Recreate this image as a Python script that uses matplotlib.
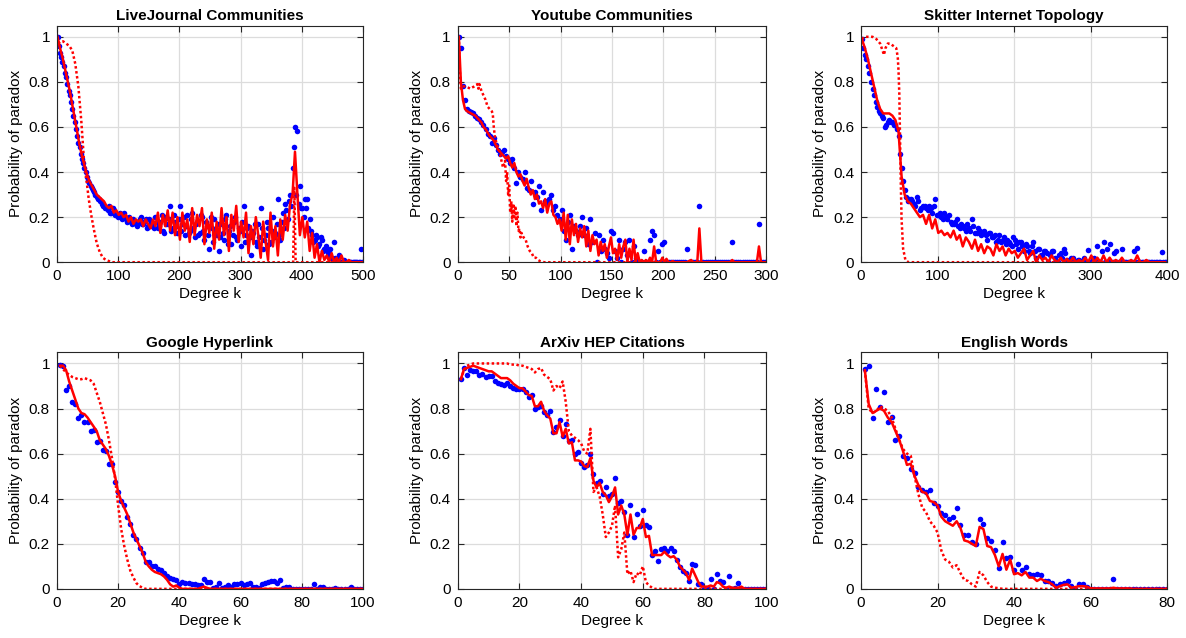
import numpy as np
import matplotlib.pyplot as plt

plt.rcParams['font.family'] = ['Liberation Sans', 'DejaVu Sans']

# ---------------- LiveJournal Communities ----------------
# measured points at k = 1, 5, 9, ..., 497
lj_emp = [1.0, 0.93, 0.89, 0.84, 0.79, 0.74, 0.68, 0.62, 0.56, 0.51,
          0.46, 0.42, 0.38, 0.35, 0.33, 0.31, 0.29, 0.28, 0.26, 0.25,
          0.24, 0.25, 0.22, 0.23, 0.21, 0.21, 0.20, 0.22, 0.19, 0.20,
          0.18, 0.19, 0.17, 0.18, 0.20, 0.17, 0.19, 0.16, 0.18, 0.17,
          0.20, 0.15, 0.18, 0.14, 0.20, 0.17, 0.25, 0.15, 0.18, 0.13,
          0.25, 0.17, 0.12, 0.21, 0.14, 0.22, 0.11, 0.18, 0.13, 0.20,
          0.10, 0.16, 0.06, 0.15, 0.19, 0.12, 0.05, 0.17, 0.10, 0.21,
          0.14, 0.08, 0.18, 0.11, 0.15, 0.07, 0.25, 0.12, 0.16, 0.03,
          0.13, 0.09, 0.17, 0.24, 0.06, 0.12, 0.15, 0.09, 0.20, 0.13,
          0.28, 0.10, 0.22, 0.26, 0.19, 0.30, 0.42, 0.60, 0.58, 0.34,
          0.24, 0.28, 0.28, 0.19, 0.12, 0.10, 0.11, 0.08, 0.10, 0.06,
          0.05, 0.04, 0.02, 0.09, 0.01, 0.03, 0.0, 0.01, 0.0, 0.0,
          0.0, 0.0, 0.0, 0.0, 0.06]
# measured points at k = 3, 7, 11, ..., 499
lj_emp2 = [0.96, 0.91, 0.87, 0.82, 0.76, 0.71, 0.65, 0.59, 0.53, 0.48,
           0.44, 0.40, 0.36, 0.34, 0.32, 0.30, 0.28, 0.27, 0.25, 0.24,
           0.23, 0.22, 0.24, 0.21, 0.20, 0.22, 0.19, 0.20, 0.18, 0.19,
           0.17, 0.18, 0.16, 0.19, 0.17, 0.18, 0.15, 0.19, 0.16, 0.15,
           0.18, 0.16, 0.21, 0.13, 0.17, 0.19, 0.14, 0.21, 0.16, 0.19,
           0.14, 0.20, 0.16, 0.13, 0.19, 0.15, 0.17, 0.12, 0.21, 0.14,
           0.18, 0.12, 0.20, 0.09, 0.14, 0.17, 0.11, 0.13, 0.19, 0.08,
           0.16, 0.12, 0.20, 0.10, 0.14, 0.18, 0.09, 0.15, 0.11, 0.14,
           0.17, 0.07, 0.11, 0.15, 0.10, 0.18, 0.08, 0.14, 0.11, 0.17,
           0.12, 0.18, 0.15, 0.23, 0.27, 0.25, 0.51, 0.30, 0.26, 0.24,
           0.20, 0.24, 0.15, 0.14, 0.09, 0.12, 0.07, 0.11, 0.05, 0.07,
           0.03, 0.06, 0.01, 0.02, 0.0, 0.0, 0.0, 0.0, 0.0, 0.0,
           0.0, 0.0, 0.0, 0.0, 0.0]
# model at k = 1, 5, 9, ..., 497
lj_model = [1.0, 0.95, 0.91, 0.86, 0.81, 0.76, 0.70, 0.64, 0.58, 0.52,
            0.47, 0.43, 0.39, 0.36, 0.34, 0.32, 0.30, 0.29, 0.28, 0.27,
            0.25, 0.24, 0.25, 0.22, 0.23, 0.21, 0.22, 0.20, 0.21, 0.18,
            0.20, 0.17, 0.19, 0.18, 0.19, 0.16, 0.19, 0.17, 0.15, 0.19,
            0.16, 0.22, 0.13, 0.21, 0.16, 0.23, 0.14, 0.22, 0.12, 0.20,
            0.10, 0.22, 0.14, 0.19, 0.09, 0.24, 0.12, 0.21, 0.16, 0.24,
            0.08, 0.19, 0.13, 0.22, 0.06, 0.18, 0.10, 0.24, 0.12, 0.20,
            0.05, 0.21, 0.14, 0.25, 0.09, 0.18, 0.11, 0.22, 0.04, 0.16,
            0.08, 0.20, 0.12, 0.02, 0.18, 0.09, 0.01, 0.22, 0.07, 0.16,
            0.03, 0.19, 0.10, 0.21, 0.14, 0.26, 0.30, 0.49, 0.30, 0.12,
            0.20, 0.11, 0.18, 0.05, 0.13, 0.02, 0.08, 0.0, 0.05, 0.01,
            0.03, 0.0, 0.04, 0.0, 0.02, 0.0, 0.03, 0.0, 0.0, 0.01,
            0.0, 0.0, 0.0, 0.0, 0.0]
lj_alt_k = [2, 6, 10, 15, 20, 25, 30, 35, 40, 44, 48, 52, 56, 60, 65, 70, 75, 80, 85, 90,
            386, 388, 390, 500]
lj_alt = [0.97, 0.98, 0.98, 0.97, 0.96, 0.94, 0.88, 0.78, 0.62, 0.46, 0.37, 0.28, 0.21,
          0.15, 0.085, 0.045, 0.02, 0.01, 0.005, 0.0, 0.0, 0.33, 0.0, 0.0]

# ---------------- Youtube Communities, k = 1, 3, 5, ..., 299 ----------------
yt_emp = [1.0, 0.95, 0.78, 0.72, 0.68, 0.67, 0.665, 0.66, 0.65, 0.64,
          0.635, 0.62, 0.61, 0.59, 0.57, 0.56, 0.53, 0.55, 0.52, 0.50,
          0.48, 0.49, 0.50, 0.47, 0.46, 0.44, 0.46, 0.42, 0.35, 0.40,
          0.38, 0.37, 0.40, 0.33, 0.32, 0.36, 0.26, 0.31, 0.29, 0.34,
          0.23, 0.31, 0.27, 0.26, 0.28, 0.30, 0.23, 0.25, 0.21, 0.19,
          0.23, 0.14, 0.10, 0.18, 0.21, 0.06, 0.16, 0.14, 0.12, 0.16,
          0.20, 0.12, 0.15, 0.08, 0.19, 0.09, 0.13, 0.0, 0.12, 0.05,
          0.10, 0.06, 0.04, 0.02, 0.14, 0.13, 0.05, 0.02, 0.10, 0.0,
          0.06, 0.09, 0.03, 0.10, 0.0, 0.07, 0.02, 0.0, 0.0, 0.0,
          0.05, 0.0, 0.0, 0.10, 0.14, 0.12, 0.0, 0.05, 0.0, 0.08,
          0.09, 0.0, 0.0, 0.0, 0.0, 0.0, 0.0, 0.0, 0.0, 0.0,
          0.0, 0.06, 0.0, 0.0, 0.0, 0.0, 0.0, 0.25, 0.0, 0.0,
          0.0, 0.0, 0.0, 0.0, 0.0, 0.0, 0.0, 0.0, 0.0, 0.0,
          0.0, 0.0, 0.0, 0.09, 0.0, 0.0, 0.0, 0.0, 0.0, 0.0,
          0.0, 0.0, 0.0, 0.0, 0.0, 0.0, 0.17, 0.0, 0.0, 0.0]
yt_model = [1.0, 0.80, 0.72, 0.68, 0.67, 0.665, 0.66, 0.655, 0.65, 0.64,
            0.63, 0.62, 0.60, 0.59, 0.575, 0.56, 0.55, 0.54, 0.52, 0.50,
            0.49, 0.48, 0.47, 0.46, 0.47, 0.44, 0.42, 0.44, 0.40, 0.38,
            0.39, 0.36, 0.34, 0.37, 0.33, 0.30, 0.32, 0.28, 0.30, 0.26,
            0.27, 0.24, 0.28, 0.22, 0.26, 0.27, 0.21, 0.20, 0.17, 0.19,
            0.14, 0.22, 0.10, 0.21, 0.08, 0.19, 0.12, 0.17, 0.09, 0.15,
            0.11, 0.16, 0.07, 0.14, 0.05, 0.12, 0.08, 0.10, 0.03, 0.09,
            0.05, 0.08, 0.02, 0.07, 0.11, 0.04, 0.06, 0.01, 0.08, 0.02,
            0.07, 0.10, 0.0, 0.06, 0.01, 0.10, 0.0, 0.04, 0.0, 0.01,
            0.0, 0.01, 0.0, 0.02, 0.0, 0.07, 0.0, 0.0, 0.0, 0.02,
            0.0, 0.015, 0.0, 0.0, 0.005, 0.0, 0.0, 0.0, 0.0, 0.0,
            0.0, 0.0, 0.005, 0.01, 0.0, 0.0, 0.0, 0.15, 0.0, 0.0,
            0.0, 0.0, 0.0, 0.0, 0.0, 0.0, 0.0, 0.0, 0.0, 0.0,
            0.0, 0.0, 0.0, 0.01, 0.0, 0.0, 0.0, 0.0, 0.0, 0.0,
            0.0, 0.0, 0.0, 0.0, 0.0, 0.0, 0.07, 0.0, 0.0, 0.0]
yt_alt_k = [1, 2, 3, 5, 8, 12, 16, 19, 20, 21, 23, 25, 27, 29, 31, 33, 34, 35, 36, 38,
            40, 42, 44, 46, 47, 48, 49, 50, 51, 52, 53, 54, 55, 56, 57, 58, 59, 60, 61, 62,
            64, 66, 68, 70, 72, 74, 76, 78, 80, 84, 90, 300]
yt_alt = [1.0, 0.85, 0.77, 0.78, 0.78, 0.77, 0.78, 0.79, 0.77, 0.79,
          0.76, 0.74, 0.72, 0.69, 0.68, 0.67, 0.66, 0.60, 0.56, 0.52,
          0.50, 0.46, 0.42, 0.45, 0.36, 0.40, 0.30, 0.34, 0.22, 0.27,
          0.18, 0.26, 0.20, 0.25, 0.16, 0.22, 0.14, 0.15, 0.11, 0.13,
          0.11, 0.10, 0.07, 0.05, 0.04, 0.02, 0.02, 0.01, 0.005, 0.0,
          0.0, 0.0]

# ---------------- Skitter Internet Topology ----------------
# measured points at k = 1, 5, 9, ..., 397
sk_emp = [0.99, 0.92, 0.87, 0.80, 0.74, 0.69, 0.66, 0.64, 0.61, 0.63,
          0.62, 0.61, 0.56, 0.42, 0.32, 0.27, 0.28, 0.26, 0.29, 0.23,
          0.25, 0.24, 0.25, 0.22, 0.28, 0.21, 0.20, 0.22, 0.19, 0.18,
          0.17, 0.19, 0.15, 0.16, 0.14, 0.15, 0.19, 0.13, 0.15, 0.12,
          0.14, 0.10, 0.13, 0.11, 0.09, 0.12, 0.10, 0.08, 0.09, 0.07,
          0.10, 0.06, 0.09, 0.05, 0.07, 0.04, 0.09, 0.02, 0.06, 0.03,
          0.05, 0.0, 0.05, 0.02, 0.0, 0.04, 0.06, 0.01, 0.0, 0.02,
          0.0, 0.01, 0.0, 0.0, 0.055, 0.0, 0.02, 0.07, 0.0, 0.09,
          0.06, 0.08, 0.0, 0.05, 0.0, 0.06, 0.0, 0.0, 0.0, 0.05,
          0.065, 0.0, 0.0, 0.0, 0.0, 0.0, 0.0, 0.0, 0.045, 0.0]
# measured points at k = 3, 7, 11, ..., 399
sk_emp2 = [0.95, 0.90, 0.84, 0.77, 0.71, 0.67, 0.65, 0.60, 0.62, 0.62,
           0.61, 0.59, 0.48, 0.36, 0.29, 0.28, 0.27, 0.25, 0.27, 0.24,
           0.25, 0.23, 0.24, 0.25, 0.21, 0.22, 0.19, 0.20, 0.21, 0.17,
           0.18, 0.16, 0.17, 0.15, 0.17, 0.14, 0.16, 0.13, 0.14, 0.13,
           0.12, 0.13, 0.11, 0.12, 0.10, 0.09, 0.11, 0.10, 0.08, 0.11,
           0.08, 0.09, 0.07, 0.08, 0.05, 0.07, 0.05, 0.06, 0.03, 0.05,
           0.04, 0.03, 0.05, 0.0, 0.03, 0.02, 0.04, 0.0, 0.02, 0.0,
           0.01, 0.0, 0.02, 0.0, 0.0, 0.01, 0.0, 0.0, 0.05, 0.0,
           0.0, 0.0, 0.04, 0.0, 0.0, 0.0, 0.0, 0.0, 0.0, 0.0,
           0.0, 0.0, 0.0, 0.0, 0.0, 0.0, 0.0, 0.0, 0.0, 0.0]
sk_model = [0.99, 0.95, 0.90, 0.84, 0.78, 0.72, 0.68, 0.66, 0.66, 0.66,
            0.65, 0.63, 0.58, 0.38, 0.30, 0.27, 0.26, 0.24, 0.22, 0.20,
            0.21, 0.17, 0.21, 0.15, 0.19, 0.13, 0.14, 0.12, 0.13, 0.11,
            0.14, 0.10, 0.12, 0.07, 0.11, 0.09, 0.06, 0.10, 0.05, 0.08,
            0.04, 0.07, 0.06, 0.03, 0.08, 0.05, 0.07, 0.03, 0.06, 0.04,
            0.05, 0.02, 0.04, 0.06, 0.01, 0.03, 0.05, 0.0, 0.03, 0.01,
            0.02, 0.0, 0.03, 0.01, 0.0, 0.02, 0.0, 0.015, 0.0, 0.02,
            0.0, 0.01, 0.0, 0.02, 0.0, 0.03, 0.0, 0.02, 0.0, 0.03,
            0.0, 0.02, 0.0, 0.01, 0.0, 0.02, 0.0, 0.0, 0.01, 0.0,
            0.03, 0.0, 0.0, 0.01, 0.0, 0.0, 0.0, 0.0, 0.0, 0.0]
sk_alt_k = [1, 5, 10, 15, 20, 25, 28, 30, 32, 35, 38, 42, 46, 48, 49, 50, 51, 52, 53, 55,
            58, 62, 70, 400]
sk_alt = [0.99, 1.0, 1.0, 1.0, 0.99, 0.97, 0.94, 0.92, 0.95, 0.97,
          0.97, 0.96, 0.95, 0.91, 0.85, 0.75, 0.55, 0.35, 0.19, 0.06,
          0.01, 0.0, 0.0, 0.0]

# ---------------- Google Hyperlink, k = 1 ... 100 ----------------
gg_emp = [0.995, 0.99, 0.88, 0.90, 0.83, 0.82, 0.76, 0.77, 0.74, 0.74,
          0.70, 0.705, 0.65, 0.655, 0.615, 0.61, 0.553, 0.553, 0.474, 0.43,
          0.39, 0.374, 0.32, 0.29, 0.24, 0.22, 0.18, 0.16, 0.12, 0.12,
          0.10, 0.10, 0.09, 0.085, 0.07, 0.055, 0.05, 0.045, 0.04, 0.02,
          0.03, 0.025, 0.025, 0.02, 0.02, 0.015, 0.015, 0.045, 0.03, 0.03,
          0.005, 0.01, 0.025, 0.005, 0.01, 0.015, 0.01, 0.02, 0.02, 0.025,
          0.015, 0.02, 0.025, 0.01, 0.01, 0.005, 0.02, 0.025, 0.03, 0.035,
          0.035, 0.025, 0.04, 0.005, 0.01, 0.01, 0.0, 0.0, 0.0, 0.0,
          0.0, 0.0, 0.0, 0.02, 0.0, 0.01, 0.01, 0.0, 0.0, 0.0,
          0.005, 0.0, 0.0, 0.0, 0.0, 0.01, 0.0, 0.0, 0.0, 0.0]
gg_model = [0.99, 0.99, 0.97, 0.92, 0.88, 0.84, 0.80, 0.78, 0.775, 0.76,
            0.74, 0.72, 0.70, 0.66, 0.64, 0.62, 0.59, 0.55, 0.50, 0.43,
            0.39, 0.36, 0.33, 0.29, 0.25, 0.22, 0.19, 0.16, 0.12, 0.10,
            0.085, 0.075, 0.07, 0.065, 0.055, 0.04, 0.02, 0.01, 0.015, 0.005,
            0.0, 0.0, 0.0, 0.0, 0.0, 0.0, 0.005, 0.01, 0.005, 0.0,
            0.0, 0.0, 0.0, 0.0, 0.0, 0.0, 0.0, 0.0, 0.0, 0.0,
            0.0, 0.0, 0.0, 0.0, 0.0, 0.0, 0.0, 0.0, 0.0, 0.0,
            0.0, 0.0, 0.0, 0.0, 0.0, 0.0, 0.0, 0.0, 0.0, 0.0,
            0.0, 0.0, 0.0, 0.0, 0.0, 0.0, 0.0, 0.0, 0.0, 0.0,
            0.0, 0.0, 0.0, 0.0, 0.0, 0.0, 0.0, 0.0, 0.0, 0.0]
gg_alt_k = list(range(1, 31)) + [100]
gg_alt = [0.99, 0.975, 0.96, 0.95, 0.94, 0.935, 0.93, 0.93, 0.935, 0.93,
          0.925, 0.91, 0.87, 0.83, 0.78, 0.73, 0.66, 0.58, 0.49, 0.37,
          0.265, 0.19, 0.13, 0.08, 0.05, 0.025, 0.012, 0.005, 0.0, 0.0,
          0.0]

# ---------------- ArXiv HEP Citations, k = 1 ... 100 ----------------
ax_emp = [0.93, 0.98, 0.95, 0.97, 0.965, 0.965, 0.95, 0.955, 0.94, 0.945,
          0.945, 0.92, 0.915, 0.91, 0.905, 0.915, 0.90, 0.89, 0.885, 0.885,
          0.885, 0.875, 0.85, 0.86, 0.80, 0.805, 0.81, 0.785, 0.77, 0.79,
          0.695, 0.72, 0.75, 0.68, 0.73, 0.655, 0.66, 0.60, 0.605, 0.56,
          0.54, 0.55, 0.60, 0.51, 0.47, 0.48, 0.42, 0.45, 0.41, 0.42,
          0.49, 0.38, 0.39, 0.34, 0.24, 0.37, 0.23, 0.33, 0.28, 0.35,
          0.285, 0.275, 0.15, 0.17, 0.125, 0.175, 0.18, 0.17, 0.18, 0.17,
          0.13, 0.095, 0.08, 0.07, 0.035, 0.11, 0.105, 0.02, 0.02, 0.0,
          0.0, 0.045, 0.0, 0.065, 0.035, 0.03, 0.0, 0.055, 0.0, 0.005,
          0.025, 0.0, 0.0, 0.0, 0.0, 0.0, 0.0, 0.0, 0.0, 0.0]
ax_model = [0.93, 0.975, 0.98, 0.985, 0.99, 0.985, 0.98, 0.975, 0.97, 0.965,
            0.965, 0.955, 0.945, 0.935, 0.935, 0.935, 0.925, 0.91, 0.90, 0.89,
            0.89, 0.875, 0.86, 0.855, 0.81, 0.81, 0.83, 0.79, 0.77, 0.755,
            0.69, 0.69, 0.74, 0.675, 0.71, 0.645, 0.65, 0.57, 0.57, 0.565,
            0.545, 0.54, 0.58, 0.48, 0.45, 0.47, 0.43, 0.415, 0.385, 0.41,
            0.45, 0.33, 0.37, 0.33, 0.24, 0.33, 0.24, 0.27, 0.27, 0.31,
            0.23, 0.235, 0.15, 0.15, 0.15, 0.15, 0.165, 0.15, 0.14, 0.145,
            0.13, 0.10, 0.085, 0.07, 0.04, 0.09, 0.06, 0.03, 0.01, 0.01,
            0.01, 0.015, 0.01, 0.03, 0.025, 0.01, 0.005, 0.01, 0.005, 0.005,
            0.005, 0.01, 0.0, 0.0, 0.0, 0.0, 0.0, 0.0, 0.0, 0.0]
ax_alt_k = list(range(1, 66)) + [100]
ax_alt = [0.93, 0.97, 0.99, 0.995, 1.0, 1.0, 1.0, 1.0, 1.0, 1.0,
          1.0, 1.0, 1.0, 1.0, 1.0, 1.0, 0.995, 0.995, 0.995, 0.99,
          0.99, 0.985, 0.98, 0.975, 0.96, 0.975, 0.98, 0.95, 0.94, 0.93,
          0.88, 0.90, 0.89, 0.92, 0.83, 0.70, 0.68, 0.67, 0.66, 0.645,
          0.61, 0.60, 0.71, 0.43, 0.45, 0.41, 0.33, 0.23, 0.25, 0.28,
          0.37, 0.14, 0.175, 0.25, 0.065, 0.08, 0.03, 0.07, 0.06, 0.10,
          0.03, 0.015, 0.005, 0.0, 0.0, 0.0]

# ---------------- English Words, k = 1 ... 80 ----------------
ew_emp = [0.976, 0.988, 0.76, 0.888, 0.805, 0.873, 0.739, 0.763, 0.66, 0.68,
          0.59, 0.58, 0.53, 0.514, 0.45, 0.437, 0.43, 0.44, 0.38, 0.367,
          0.335, 0.328, 0.31, 0.32, 0.357, 0.283, 0.24, 0.24, 0.21, 0.20,
          0.31, 0.288, 0.224, 0.213, 0.173, 0.094, 0.209, 0.139, 0.14, 0.083,
          0.112, 0.083, 0.097, 0.064, 0.061, 0.064, 0.06, 0.034, 0.034, 0.027,
          0.012, 0.022, 0.027, 0.033, 0.012, 0.0, 0.022, 0.02, 0.007, 0.0,
          0.0, 0.0, 0.0, 0.0, 0.0, 0.042, 0.0, 0.0, 0.0, 0.0,
          0.0, 0.0, 0.0, 0.0, 0.0, 0.0, 0.0, 0.0, 0.0, 0.0]
ew_model = [0.97, 0.82, 0.78, 0.79, 0.80, 0.79, 0.76, 0.74, 0.70, 0.66,
            0.61, 0.55, 0.555, 0.50, 0.46, 0.43, 0.425, 0.39, 0.385, 0.37,
            0.32, 0.30, 0.29, 0.28, 0.30, 0.27, 0.215, 0.21, 0.20, 0.19,
            0.275, 0.265, 0.19, 0.185, 0.15, 0.10, 0.155, 0.085, 0.13, 0.065,
            0.07, 0.06, 0.075, 0.05, 0.05, 0.035, 0.045, 0.035, 0.03, 0.02,
            0.005, 0.012, 0.018, 0.02, 0.005, 0.008, 0.012, 0.012, 0.01, 0.003,
            0.002, 0.002, 0.002, 0.002, 0.002, 0.005, 0.002, 0.002, 0.002, 0.002,
            0.0, 0.0, 0.0, 0.0, 0.0, 0.0, 0.0, 0.0, 0.0, 0.0]
ew_alt_k = list(range(1, 38)) + [80]
ew_alt = [0.97, 0.80, 0.78, 0.79, 0.81, 0.80, 0.79, 0.76, 0.71, 0.66,
          0.62, 0.60, 0.59, 0.50, 0.42, 0.36, 0.34, 0.30, 0.28, 0.25,
          0.17, 0.13, 0.12, 0.095, 0.105, 0.07, 0.04, 0.035, 0.02, 0.01,
          0.075, 0.06, 0.03, 0.01, 0.005, 0.003, 0.0, 0.0]

titles = ['LiveJournal Communities', 'Youtube Communities', 'Skitter Internet Topology',
          'Google Hyperlink', 'ArXiv HEP Citations', 'English Words']
xmax = [500, 300, 400, 100, 100, 80]
xstep = [100, 50, 100, 20, 20, 20]
kstep = [4, 2, 4, 1, 1, 1]
emp = [lj_emp, yt_emp, sk_emp, gg_emp, ax_emp, ew_emp]
emp2 = [lj_emp2, None, sk_emp2, None, None, None]
model = [lj_model, yt_model, sk_model, gg_model, ax_model, ew_model]
alt_k = [lj_alt_k, yt_alt_k, sk_alt_k, gg_alt_k, ax_alt_k, ew_alt_k]
alt = [lj_alt, yt_alt, sk_alt, gg_alt, ax_alt, ew_alt]

fig = plt.figure(figsize=(11.86, 6.38), dpi=100)
lefts = [0.048, 0.386, 0.726]
widths = [0.258, 0.260, 0.258]
bottoms = [0.589, 0.077]

for i in range(6):
    r, c = divmod(i, 3)
    ax = fig.add_axes([lefts[c], bottoms[r], widths[c], 0.371])
    k = 1 + kstep[i] * np.arange(len(emp[i]))
    ax.plot(k, emp[i], 'o', color='blue', markersize=4.0, markeredgewidth=0)
    if emp2[i] is not None:
        k2 = 3 + kstep[i] * np.arange(len(emp2[i]))
        ax.plot(k2, emp2[i], 'o', color='blue', markersize=4.0, markeredgewidth=0)
    ax.plot(alt_k[i], alt[i], color='red', linestyle=(0, (1, 1)), linewidth=1.8)
    ax.plot(k, model[i], color='red', linewidth=1.8)
    ax.set_xlim(0, xmax[i])
    ax.set_ylim(0, 1.05)
    ax.set_xticks(np.arange(0, xmax[i] + 1, xstep[i]))
    ax.set_yticks([0, 0.2, 0.4, 0.6, 0.8, 1])
    ax.set_yticklabels(['0', '0.2', '0.4', '0.6', '0.8', '1'])
    ax.grid(True, color='#dcdcdc', linewidth=0.9)
    ax.set_axisbelow(True)
    ax.tick_params(direction='in', top=True, right=True, length=4, width=0.8, pad=5,
                   labelsize=11, colors='#262626', labelcolor='black')
    for s in ax.spines.values():
        s.set_color('#262626')
        s.set_linewidth(0.8)
    ax.set_title(titles[i], fontsize=11, fontweight='bold', pad=4)
    ax.set_xlabel('Degree k', fontsize=11, labelpad=3)
    ax.set_ylabel('Probability of paradox', fontsize=11, labelpad=4)

fig.savefig('out.png', dpi=100)
